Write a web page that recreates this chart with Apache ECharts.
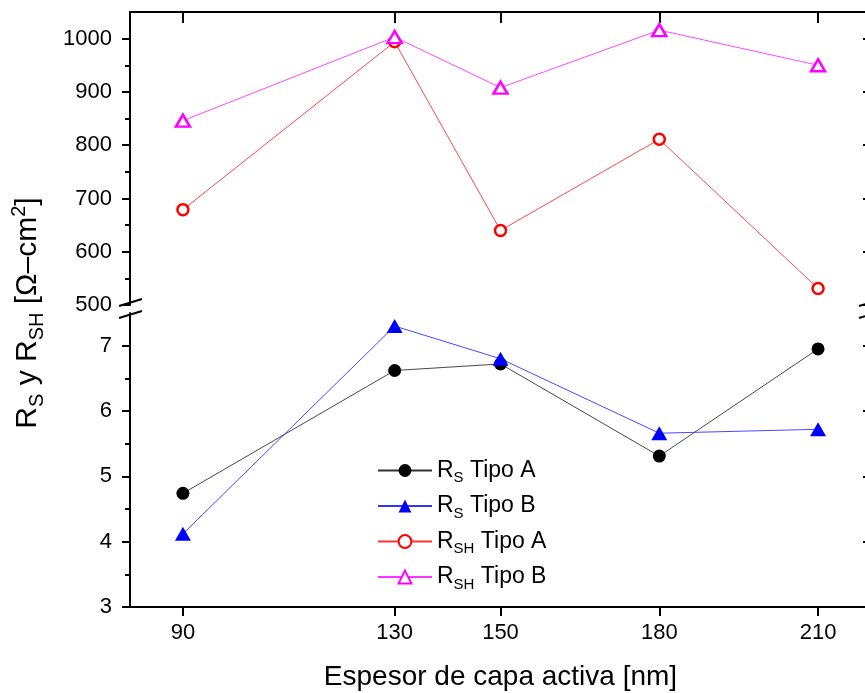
<!DOCTYPE html>
<html>
<head>
<meta charset="utf-8">
<script src="https://cdn.jsdelivr.net/npm/echarts@6/dist/echarts.min.js"></script>
<style>
html,body{margin:0;padding:0;background:#fff;}
#chart{width:865px;height:693px;}
</style>
</head>
<body>
<div id="chart"></div>
<script>
const thickness = [90, 130, 150, 180, 210];
const rsTipoA = [4.74, 6.62, 6.72, 5.31, 6.95];
const rsTipoB = [4.12, 7.30, 6.80, 5.66, 5.72];
const rshTipoA = [679, 994, 640, 811, 531];
const rshTipoB = [846, 1003, 908, 1016, 950];
const xTicks = [90, 130, 150, 180, 210];
const upperMajor = [500, 600, 700, 800, 900, 1000];
const upperMinor = [550, 650, 750, 850, 950];
const lowerMajor = [3, 4, 5, 6, 7];
const lowerMinor = [3.5, 4.5, 5.5, 6.5];

const FONT = "'Liberation Sans', Arial, sans-serif";
const pairs = (vals) => thickness.map((x, i) => [x, vals[i]]);
const plain = (v) => String(v);

const G_LEFT = 130, G_WIDTH = 741;
const U_TOP = 12, U_H = 293;
const L_TOP = 313, L_BOTTOM = 86;

const chart = echarts.init(document.getElementById('chart'), null, {renderer: 'canvas'});

function yAx(gridIndex, pos, min, max, values, opts) {
  return Object.assign({
    type: 'value', gridIndex: gridIndex, position: pos, min: min, max: max,
    splitLine: {show: false},
    axisLine: {show: true, onZero: false, lineStyle: {color: '#000', width: 2}},
    axisTick: {show: true, inside: pos === 'right', length: 8, customValues: values,
      lineStyle: {color: '#000', width: 2}},
    axisLabel: {show: false}
  }, opts || {});
}

const legendRich = {
  m: {fontSize: 23, fontFamily: FONT, color: '#000', lineHeight: 30, verticalAlign: 'middle'},
  s: {fontSize: 15, fontFamily: FONT, color: '#000', lineHeight: 12, verticalAlign: 'bottom'}
};

const option = {
  backgroundColor: '#fff',
  animation: false,
  grid: [
    {left: G_LEFT, width: G_WIDTH, top: U_TOP, height: U_H, outerBoundsMode: 'none', containLabel: false},
    {left: G_LEFT, width: G_WIDTH, top: L_TOP, bottom: L_BOTTOM, outerBoundsMode: 'none', containLabel: false}
  ],
  xAxis: [
    {type: 'value', gridIndex: 0, position: 'top', min: 80, max: 220,
      splitLine: {show: false},
      axisLine: {show: true, onZero: false, lineStyle: {color: '#000', width: 2}},
      axisTick: {show: true, inside: true, length: 11, customValues: xTicks, lineStyle: {color: '#000', width: 2}},
      axisLabel: {show: false}},
    {type: 'value', gridIndex: 1, position: 'bottom', min: 80, max: 220,
      splitLine: {show: false},
      axisLine: {show: true, onZero: false, lineStyle: {color: '#000', width: 2}},
      axisTick: {show: true, inside: false, length: 9, customValues: xTicks, lineStyle: {color: '#000', width: 2}},
      axisLabel: {show: true, customValues: xTicks, formatter: plain, fontSize: 22, fontFamily: FONT, color: '#000', margin: 15},
      name: 'Espesor de capa activa [nm]', nameLocation: 'middle', nameGap: 56,
      nameTextStyle: {fontSize: 28, fontFamily: FONT, color: '#000'}}
  ],
  yAxis: [
    yAx(0, 'left', 500, 1050, upperMajor, {
      axisLabel: {show: true, customValues: upperMajor, formatter: plain, fontSize: 22, fontFamily: FONT, color: '#000', margin: 18}}),
    yAx(0, 'left', 500, 1050, upperMinor, {axisLine: {show: false},
      axisTick: {show: true, inside: false, length: 5, customValues: upperMinor, lineStyle: {color: '#000', width: 2}}}),
    yAx(0, 'right', 500, 1050, upperMajor),
    yAx(0, 'right', 500, 1050, upperMinor, {axisLine: {show: false},
      axisTick: {show: true, inside: true, length: 4, customValues: upperMinor, lineStyle: {color: '#000', width: 2}}}),
    yAx(1, 'left', 3, 7.5, lowerMajor, {
      axisLabel: {show: true, customValues: lowerMajor, formatter: plain, fontSize: 22, fontFamily: FONT, color: '#000', margin: 18}}),
    yAx(1, 'left', 3, 7.5, lowerMinor, {axisLine: {show: false},
      axisTick: {show: true, inside: false, length: 5, customValues: lowerMinor, lineStyle: {color: '#000', width: 2}}}),
    yAx(1, 'right', 3, 7.5, lowerMajor),
    yAx(1, 'right', 3, 7.5, lowerMinor, {axisLine: {show: false},
      axisTick: {show: true, inside: true, length: 4, customValues: lowerMinor, lineStyle: {color: '#000', width: 2}}})
  ],
  legend: {
    orient: 'vertical', left: 377, top: 459, itemWidth: 54, itemHeight: 16, itemGap: 9,
    padding: 0,
    data: ['RS Tipo A', 'RS Tipo B', 'RSH Tipo A', 'RSH Tipo B'],
    formatter: function (name) {
      const parts = name.split(' ');
      const sub = parts[0].substring(1);
      return '{m|R}{s|' + sub + '}{m| ' + parts.slice(1).join(' ') + '}';
    },
    textStyle: {rich: legendRich}
  },
  series: [
    {name: 'RS Tipo A', type: 'line', xAxisIndex: 1, yAxisIndex: 4, data: pairs(rsTipoA),
      symbol: 'circle', symbolSize: 13,
      itemStyle: {color: '#000'}, lineStyle: {color: '#333', width: 0.9}},
    {name: 'RS Tipo B', type: 'line', xAxisIndex: 1, yAxisIndex: 4, data: pairs(rsTipoB),
      symbol: 'triangle', symbolSize: [16, 14],
      itemStyle: {color: '#0000ff'}, lineStyle: {color: '#3333ff', width: 0.9}},
    {name: 'RSH Tipo A', type: 'line', xAxisIndex: 0, yAxisIndex: 0, data: pairs(rshTipoA),
      symbol: 'circle', symbolSize: 11,
      itemStyle: {color: '#fff', borderColor: '#ff0000', borderWidth: 2.5}, lineStyle: {color: '#ff3333', width: 0.9}},
    {name: 'RSH Tipo B', type: 'line', xAxisIndex: 0, yAxisIndex: 0, data: pairs(rshTipoB),
      symbol: 'triangle', symbolSize: [14, 12],
      itemStyle: {color: '#fff', borderColor: '#ff00ff', borderWidth: 2.5}, lineStyle: {color: '#ff33ff', width: 0.9}}
  ],
  graphic: [
    {type: 'text', x: 28, y: 313, rotation: Math.PI / 2,
      style: {
        text: '{m|R}{s|S}{m| y R}{s|SH}{m| [\u03A9\u2013cm}{p|2}{m|]}',
        align: 'center', verticalAlign: 'middle',
        rich: {
          m: {fontSize: 30, fontFamily: FONT, fill: '#000', lineHeight: 38, verticalAlign: 'middle'},
          s: {fontSize: 20, fontFamily: FONT, fill: '#000', lineHeight: 16, verticalAlign: 'bottom'},
          p: {fontSize: 20, fontFamily: FONT, fill: '#000', lineHeight: 16, verticalAlign: 'top'}
        }
      }},
    {type: 'line', shape: {x1: 119, y1: 306, x2: 142, y2: 299}, style: {stroke: '#000', lineWidth: 2}},
    {type: 'line', shape: {x1: 119, y1: 318, x2: 142, y2: 311}, style: {stroke: '#000', lineWidth: 2}},
    {type: 'line', shape: {x1: 859, y1: 306, x2: 882, y2: 299}, style: {stroke: '#000', lineWidth: 2}},
    {type: 'line', shape: {x1: 859, y1: 318, x2: 882, y2: 311}, style: {stroke: '#000', lineWidth: 2}}
  ]
};
chart.setOption(option);
</script>
</body>
</html>
